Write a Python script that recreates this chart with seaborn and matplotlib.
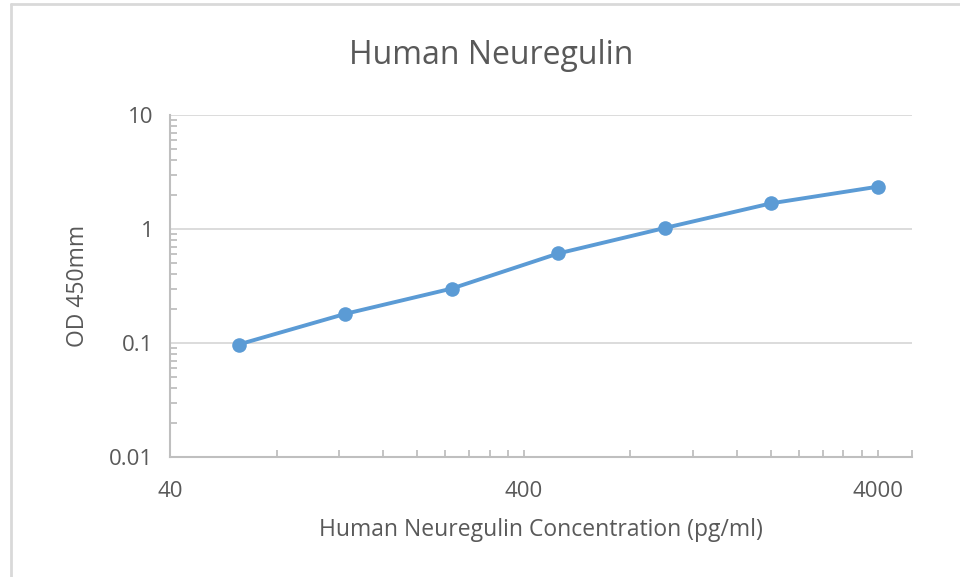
import pandas as pd
import numpy as np
import matplotlib
matplotlib.use('Agg')
import matplotlib.pyplot as plt
import seaborn as sns
from matplotlib.lines import Line2D
from matplotlib.ticker import FixedLocator, NullFormatter

# Data
concentration = [62.5, 125, 250, 500, 1000, 2000, 4000]
od_450 = [0.097, 0.18, 0.30, 0.61, 1.02, 1.68, 2.35]

x_ticks = [40, 400, 4000]
x_labels = ['40', '400', '4000']
y_ticks = [0.01, 0.1, 1, 10]
y_labels = ['0.01', '0.1', '1', '10']

BLUE = '#5b9bd5'
TEXT = '#595959'
AXIS = '#bfbfbf'
GRID = '#d9d9d9'

sns.set_theme(style='white')
plt.rcParams['font.family'] = ['Open Sans', 'DejaVu Sans']

df = pd.DataFrame({'conc': concentration, 'od': od_450})

fig = plt.figure(figsize=(9.6, 5.77), dpi=100)
ax = fig.add_axes([170 / 960, 1 - 457 / 577, (912 - 170) / 960, (457 - 115) / 577])

sns.lineplot(data=df, x='conc', y='od', ax=ax, color=BLUE, linewidth=2.8,
             marker='o', markersize=10.5, markeredgewidth=0, zorder=3)

ax.set_xscale('log')
ax.set_yscale('log')
ax.set_xlim(40, 5000)
ax.set_ylim(0.01, 10)

ax.set_xticks(x_ticks)
ax.set_xticklabels(x_labels)
ax.set_yticks(y_ticks)
ax.set_yticklabels(y_labels)

x_minor = [m * b for b in (40, 400) for m in range(2, 10)] + [5000]
y_minor = [m * b for b in (0.01, 0.1, 1) for m in range(2, 10)]
ax.xaxis.set_minor_locator(FixedLocator(x_minor))
ax.yaxis.set_minor_locator(FixedLocator(y_minor))
ax.xaxis.set_minor_formatter(NullFormatter())
ax.yaxis.set_minor_formatter(NullFormatter())

ax.tick_params(axis='both', which='both', bottom=True, left=True, top=False, right=False)
ax.tick_params(axis='x', which='major', direction='in', length=5, width=1.3, color=AXIS,
               labelsize=16, labelcolor=TEXT, pad=17)
ax.tick_params(axis='y', which='major', length=0, labelsize=16, labelcolor=TEXT, pad=12)
ax.tick_params(axis='both', which='minor', direction='in', length=5, width=1.3, color=AXIS)

ax.grid(True, axis='y', which='major', color=GRID, linewidth=1.3)
ax.grid(False, axis='x')

for side in ['top', 'right']:
    ax.spines[side].set_visible(False)
for side in ['left', 'bottom']:
    ax.spines[side].set_color(AXIS)
    ax.spines[side].set_linewidth(1.5)

ax.set_xlabel('Human Neuregulin Concentration (pg/ml)', fontsize=16.5, color=TEXT, labelpad=12)
ax.set_ylabel('OD 450mm', fontsize=16.5, color=TEXT, labelpad=14)
fig.text(491 / 960, 1 - 55 / 577, 'Human Neuregulin', fontsize=23, color=TEXT,
         ha='center', va='center')

# outer chart frame
fig.add_artist(Line2D([11 / 960, 11 / 960], [0, 1 - 4 / 577], color=GRID, linewidth=2))
fig.add_artist(Line2D([11 / 960, 1], [1 - 4 / 577, 1 - 4 / 577], color=GRID, linewidth=2))

fig.savefig('out.png', dpi=100)
